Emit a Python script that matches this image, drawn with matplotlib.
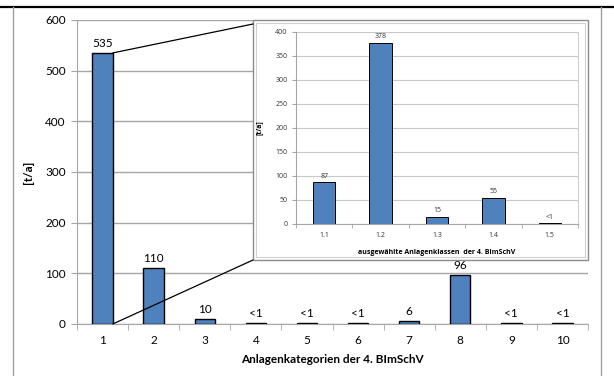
import matplotlib
matplotlib.use('Agg')
import matplotlib.pyplot as plt
from matplotlib.patches import Rectangle, ConnectionPatch
from matplotlib.lines import Line2D
import numpy as np

plt.rcParams['font.family'] = ['Lato', 'DejaVu Sans']

#Main chart data
categories = ['1', '2', '3', '4', '5', '6', '7', '8', '9', '10']
values = [535, 110, 10, 1, 1, 1, 6, 96, 1, 1]
value_labels = ['535', '110', '10', '<1', '<1', '<1', '6', '96', '<1', '<1']

#Inset data
inset_categories = ['1.1', '1.2', '1.3', '1.4', '1.5']
inset_values = [87, 378, 15, 55, 1.5]
inset_labels = ['87', '378', '15', '55', '<1']

bar_color = '#4F81BD'
grid_color = '#a6a6a6'
W, H = 614, 376

fig = plt.figure(figsize=(W/100, H/100), dpi=100)

#Outer frame of the figure
fig.add_artist(Line2D([0, 1], [1 - 7/H, 1 - 7/H], color='black', lw=1.6))
for xp in (13, 601):
   fig.add_artist(Line2D([xp/W, xp/W], [0, 1 - 7/H], color='#a0a0a0', lw=1.0))

#Main axes
ax = fig.add_axes([77/W, 1 - 324/H, 511/W, 304/H])
x = np.arange(len(categories))
ax.bar(x, values, width=0.4, color=bar_color, edgecolor='black', linewidth=1.0, zorder=3)
for xi, v, lab in zip(x, values, value_labels):
   ax.text(xi, v + 8, lab, ha='center', va='bottom', fontsize=8.5, color='black')

ax.set_xlim(-0.5, len(categories) - 0.5)
ax.set_ylim(0, 600)
ax.set_yticks(np.arange(0, 601, 100))
ax.set_xticks(x)
ax.set_xticklabels(categories)
ax.set_xticks(np.arange(-0.5, len(categories), 1), minor=True)
ax.tick_params(axis='x', which='major', length=0, labelsize=8.5, pad=8)
ax.tick_params(axis='x', which='minor', length=4, color=grid_color, direction='out')
ax.tick_params(axis='y', length=4, color=grid_color, labelsize=8.5, pad=4)
ax.yaxis.grid(True, color=grid_color, lw=1.0, zorder=0)
ax.set_axisbelow(True)
for s in ('top', 'right'):
   ax.spines[s].set_visible(False)
for s in ('left', 'bottom'):
   ax.spines[s].set_color(grid_color)
ax.set_xlabel('Anlagenkategorien der 4. BImSchV', fontsize=8.5, fontweight='bold', labelpad=6)
ax.set_ylabel('[t/a]', fontsize=8.5, fontweight='bold', labelpad=8)

#Inset frame
fx0, fy0, fx1, fy1 = 253/W, 1 - 260/H, 588/W, 1 - 20/H
frame = Rectangle((fx0, fy0), fx1 - fx0, fy1 - fy0, transform=fig.transFigure,
                  facecolor='white', edgecolor='#8c8c8c', lw=1.0, zorder=5)
fig.add_artist(frame)
inner = Rectangle((fx0 + 3/W, fy0 + 3/H), fx1 - fx0 - 6/W, fy1 - fy0 - 6/H,
                  transform=fig.transFigure, facecolor='none', edgecolor='#d0d0d0',
                  lw=0.8, zorder=5)
fig.add_artist(inner)

#Connector lines from bar 1 to the inset frame
bar_right = x[0] + 0.2
for yA, yB in ((values[0], 1 - 24/H), (0, fy0)):
   con = ConnectionPatch(xyA=(bar_right, yA), coordsA=ax.transData,
                         xyB=(fx0, yB), coordsB=fig.transFigure,
                         color='black', lw=0.9, zorder=6)
   fig.add_artist(con)

#Inset axes
small = ['Open Sans', 'DejaVu Sans']
ins = fig.add_axes([296/W, 1 - 224/H, 282/W, 192/H], zorder=10)
xi_ = np.arange(len(inset_categories))
ins.bar(xi_, inset_values, width=0.4, color=bar_color, edgecolor='black', linewidth=0.7, zorder=3)
for xv, v, lab in zip(xi_, inset_values, inset_labels):
   ins.text(xv, v + 5, lab, ha='center', va='bottom', fontsize=5, color='#333333', family=small)
ins.set_xlim(-0.5, len(inset_categories) - 0.5)
ins.set_ylim(0, 400)
ins.set_yticks(np.arange(0, 401, 50))
ins.set_xticks(xi_)
ins.set_xticklabels(inset_categories, family=small)
ins.set_yticklabels([str(t) for t in range(0, 401, 50)], family=small)
ins.set_xticks(np.arange(-0.5, len(inset_categories), 1), minor=True)
ins.tick_params(axis='x', which='major', length=0, labelsize=5, pad=6, labelcolor='#333333')
ins.tick_params(axis='x', which='minor', length=3, color=grid_color)
ins.tick_params(axis='y', length=3, color=grid_color, labelsize=5, pad=3, labelcolor='#333333')
ins.yaxis.grid(True, color='#c8c8c8', lw=0.8, zorder=0)
ins.set_axisbelow(True)
ins.spines['top'].set_visible(False)
ins.spines['right'].set_color('#d0d0d0')
for s in ('left', 'bottom'):
   ins.spines[s].set_color(grid_color)
ins.set_xlabel('ausgewählte Anlagenklassen  der 4. BImSchV', fontsize=5, fontweight='bold',
               labelpad=7, family=small)
ins.set_ylabel('[t/a]', fontsize=5, fontweight='bold', labelpad=9, family=small)

plt.savefig('out.png', dpi=100)
